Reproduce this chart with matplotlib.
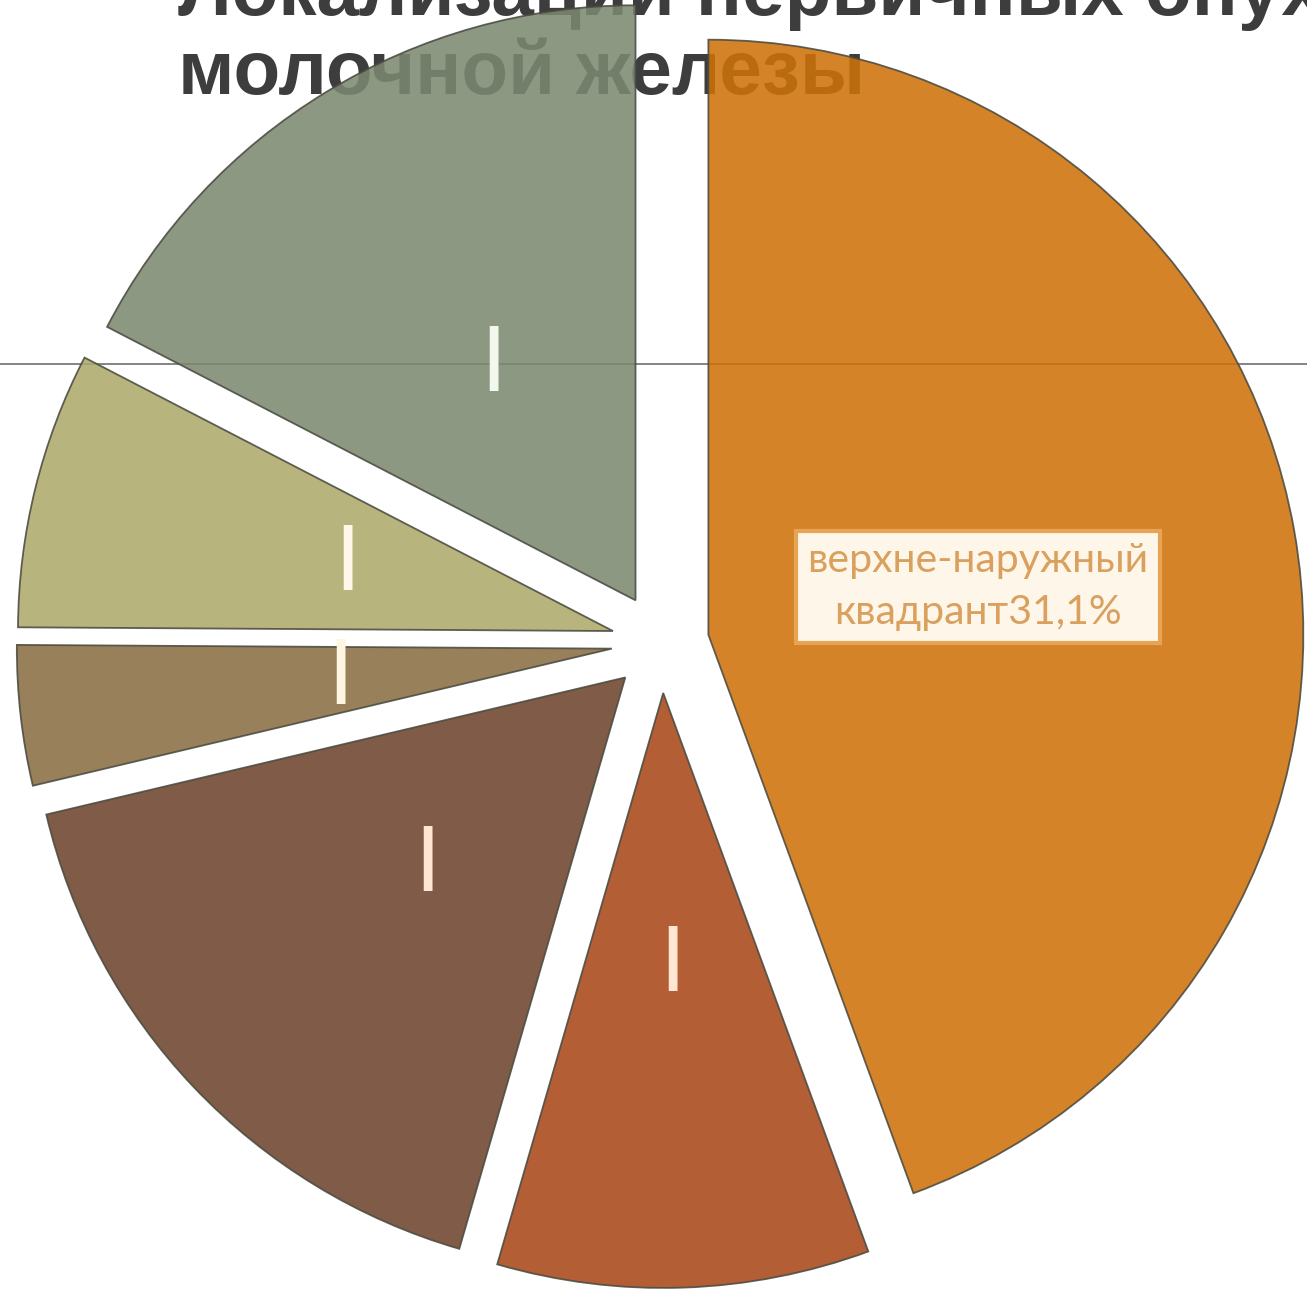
import matplotlib
matplotlib.use('Agg')
import matplotlib.pyplot as plt

# ---- data ----
title_line1 = 'Локализации первичных опухолей'
title_line2 = 'молочной железы'
values = [44.4, 10.1, 16.8, 3.8, 7.5, 17.4]
labels = ['верхне-наружный\nквадрант31,1%', 'I', 'I', 'I', 'I', 'I']
colors = ['#CE7109', '#A94618', '#6D442D', '#896D41', '#AEA96A', '#7C8971']
label_colors = ['#D9A05E', '#FFE6D2', '#FFE6D2', '#FFF6E2', '#FFF8E8', '#F4F8EC']
explode = [0.08, 0.084, 0.084, 0.084, 0.084, 0.084]

W, H = 1307, 1296
fig = plt.figure(figsize=(W / 100, H / 100), dpi=100)
ax = fig.add_axes([0, 0, 1, 1])

wedges, texts = ax.pie(values, labels=labels, colors=colors, startangle=90,
                       counterclock=False, explode=explode, radius=1,
                       labeldistance=0.46,
                       wedgeprops=dict(edgecolor='#4a4a40', linewidth=1.3, alpha=0.87))

for t, c in zip(texts, label_colors):
    t.set_ha('center')
    t.set_va('center')
    t.set_color(c)
    t.set_zorder(5)
    if t.get_text() == 'I':
        t.set_fontsize(64)
        t.set_family('DejaVu Sans')
    else:
        t.set_fontsize(29.5)
        t.set_family('Lato')
        t.set_linespacing(1.5)
        t.set_bbox(dict(boxstyle='square,pad=0.28', fc='#FFF6EA', ec='#E8A455', lw=3))

ax.set_aspect('auto')
ax.set_xlim(-1.1118, 1.0849)
ax.set_ylim(-1.0975, 1.0807)
ax.axis('off')

# title and rule behind the (semi-transparent) pie
ax.text(178 / W, 1 - 15 / H, title_line1, transform=ax.transAxes, fontsize=55,
        fontweight='bold', family='Liberation Sans', color='#3d3d3d',
        ha='left', va='baseline', zorder=0, clip_on=False)
ax.text(178 / W, 1 - 94 / H, title_line2, transform=ax.transAxes, fontsize=55,
        fontweight='bold', family='Liberation Sans', color='#3d3d3d',
        ha='left', va='baseline', zorder=0, clip_on=False)
ax.plot([0, 1], [1 - 364 / H, 1 - 364 / H], transform=ax.transAxes,
        color='#707070', lw=1.2, zorder=0.5, clip_on=False)

fig.savefig('out.png', dpi=100)
